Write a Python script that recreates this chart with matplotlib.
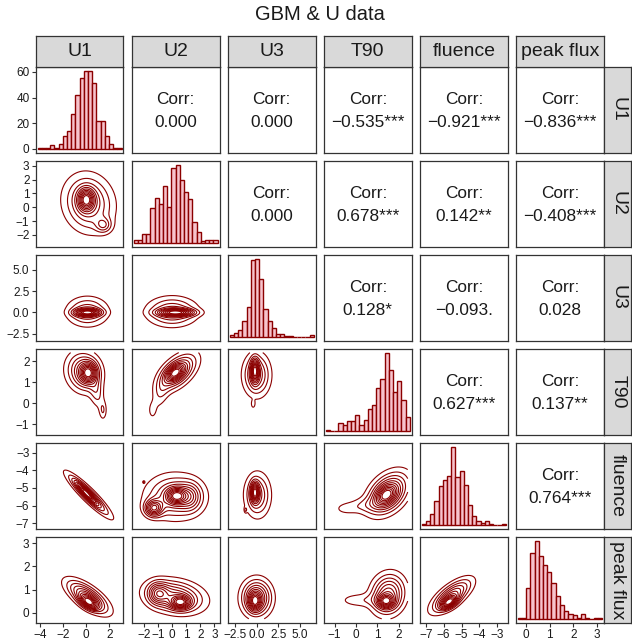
import numpy as np
import matplotlib.pyplot as plt

plt.rcParams['font.family'] = ['Liberation Sans', 'DejaVu Sans']

# variables, data ranges (min/max) and ticks
var_names = ["U1", "U2", "U3", "T90", "fluence", "peak flux"]
var_min = [-4.03, -2.57, -2.86, -1.31, -7.10, -0.25]
var_max = [2.88, 3.08, 6.34, 2.41, -2.64, 3.11]
var_ticks = [[-4, -2, 0, 2],
             [-2, -1, 0, 1, 2, 3],
             [-2.5, 0, 2.5, 5],
             [-1, 0, 1, 2],
             [-7, -6, -5, -4, -3],
             [0, 1, 2, 3]]
var_ticklabels = [None, None, ["−2.5", "0.0", "2.5", "5.0"], None, None, None]

# histogram counts (20 bins each)
hist_u1 = [1, 1, 1, 3, 1, 4, 10, 14, 27, 42, 55, 61, 61, 51, 22, 22, 10, 4, 1, 1]
hist_u2 = [2, 2, 6, 6, 23, 30, 26, 38, 24, 50, 52, 42, 34, 29, 14, 7, 1, 2, 2, 2]
hist_u3 = [2, 5, 8, 18, 35, 90, 92, 68, 33, 18, 10, 3, 3, 1, 1, 0, 0, 0, 0, 2]
hist_t90 = [1, 0, 0, 6, 5, 8, 8, 13, 5, 9, 18, 21, 35, 42, 64, 50, 32, 41, 25, 11]
hist_flu = [1, 3, 10, 22, 35, 41, 44, 71, 43, 49, 36, 18, 8, 3, 2, 3, 1, 0, 0, 1]
hist_pf = [1, 1, 28, 59, 70, 56, 48, 42, 32, 20, 12, 7, 4, 3, 1, 4, 1, 0, 1, 1]
hists = [hist_u1, hist_u2, hist_u3, hist_t90, hist_flu, hist_pf]
count_ticks = [0, 20, 40, 60]

# upper triangle correlation labels (row, col)
corr_labels = {
    (0, 1): "0.000", (0, 2): "0.000", (0, 3): "−0.535***",
    (0, 4): "−0.921***", (0, 5): "−0.836***",
    (1, 2): "0.000", (1, 3): "0.678***", (1, 4): "0.142**", (1, 5): "−0.408***",
    (2, 3): "0.128*", (2, 4): "−0.093.", (2, 5): "0.028",
    (3, 4): "0.627***", (3, 5): "0.137**",
    (4, 5): "0.764***",
}

# density shapes:
# (mean x, mean y, sd x, sd y, rho, weight)
u2_u1 = [(0.2, 0.3, 1.35, 1.3, -0.1, 0.75), (0.0, 0.55, 0.45, 0.5, 0.0, 0.15),
         (1.5, -1.3, 0.45, 0.35, 0.0, 0.04)]
u3_u1 = [(0.1, 0.1, 1.15, 1.1, 0.0, 0.75), (0.1, 0.0, 0.7, 0.28, 0.0, 0.25)]
u3_u2 = [(0.0, 0.1, 1.15, 1.1, 0.0, 0.75), (0.3, 0.0, 0.8, 0.28, 0.0, 0.25)]
t90_u1 = [(-0.2, 1.5, 0.95, 0.6, -0.1, 0.65), (0.2, 1.45, 0.45, 0.3, 0.0, 0.2),
          (0.9, 0.5, 0.4, 0.5, -0.3, 0.08), (1.45, -0.35, 0.22, 0.3, 0.0, 0.025)]
t90_u2 = [(0.4, 1.5, 0.85, 0.55, 0.55, 0.65), (0.2, 1.45, 0.4, 0.25, 0.4, 0.15),
          (-0.8, 0.5, 0.4, 0.55, 0.4, 0.08), (-1.4, -0.35, 0.22, 0.3, 0.0, 0.02)]
t90_u3 = [(0.0, 1.35, 1.0, 0.65, 0.0, 0.75), (-0.2, 1.55, 0.3, 0.35, 0.0, 0.2),
          (-0.4, -0.05, 0.15, 0.12, 0.0, 0.006)]
flu_u1 = [(0.2, -5.4, 1.15, 0.75, -0.92, 0.8), (0.0, -5.3, 0.5, 0.35, -0.9, 0.2)]
flu_u2 = [(0.2, -5.5, 1.3, 0.8, 0.0, 0.6), (0.3, -5.45, 0.45, 0.3, 0.0, 0.12),
          (-1.3, -6.15, 0.4, 0.3, 0.0, 0.1), (1.3, -5.5, 0.5, 0.5, 0.0, 0.1),
          (-2.0, -4.66, 0.04, 0.04, 0.0, 0.0004)]
flu_u3 = [(0.1, -5.4, 0.95, 0.8, 0.0, 0.75), (-0.2, -5.25, 0.3, 0.35, 0.0, 0.2),
          (-1.27, -6.25, 0.1, 0.1, 0.0, 0.004)]
flu_t90 = [(1.5, -5.3, 0.6, 0.75, 0.4, 0.7), (1.4, -5.4, 0.3, 0.35, 0.3, 0.12),
           (0.3, -6.0, 0.7, 0.3, 0.2, 0.07), (-0.5, -6.2, 0.35, 0.22, 0.0, 0.015)]
pf_u1 = [(0.1, 0.7, 1.15, 0.45, -0.7, 0.8), (0.2, 0.45, 0.5, 0.2, -0.5, 0.2)]
pf_u2 = [(0.2, 0.7, 1.3, 0.45, -0.2, 0.7), (0.6, 0.45, 0.45, 0.18, 0.0, 0.12),
         (-1.0, 0.85, 0.45, 0.3, 0.0, 0.12)]
pf_u3 = [(0.0, 0.65, 1.1, 0.5, 0.0, 0.85), (-0.2, 0.5, 0.45, 0.25, 0.0, 0.15)]
pf_t90 = [(1.5, 0.8, 0.5, 0.55, 0.1, 0.75), (1.4, 0.5, 0.25, 0.18, 0.0, 0.12),
          (0.1, 0.55, 0.6, 0.2, 0.0, 0.08)]
pf_flu = [(-5.55, 0.75, 0.7, 0.45, 0.7, 0.8), (-5.7, 0.45, 0.3, 0.18, 0.5, 0.2)]

shapes = {
    (1, 0): u2_u1,
    (2, 0): u3_u1, (2, 1): u3_u2,
    (3, 0): t90_u1, (3, 1): t90_u2, (3, 2): t90_u3,
    (4, 0): flu_u1, (4, 1): flu_u2, (4, 2): flu_u3, (4, 3): flu_t90,
    (5, 0): pf_u1, (5, 1): pf_u2, (5, 2): pf_u3, (5, 3): pf_t90, (5, 4): pf_flu,
}

dark = "#8B0000"
pink = "#F7C3CC"
border = "#333333"
strip_fc = "#D9D9D9"


def density(xx, yy, comps):
    z = np.zeros_like(xx)
    for mx, my, sx, sy, r, w in comps:
        dx = (xx - mx) / sx
        dy = (yy - my) / sy
        q = (dx**2 - 2 * r * dx * dy + dy**2) / (1 - r**2)
        z += w * np.exp(-0.5 * q) / (2 * np.pi * sx * sy * np.sqrt(1 - r**2))
    return z


def axlim(k):
    w = var_max[k] - var_min[k]
    return var_min[k] - 0.05 * w, var_max[k] + 0.05 * w


W, H = 632, 644
fig = plt.figure(figsize=(W / 100, H / 100), dpi=100)

left0, step_x, pw = 35.7, 96.06, 87.8
top0, step_y, ph = 66.7, 94.0, 86.0
strip_top = 35.7
strip_right_w = 27.7


def fig_rect(x, y, w, h):
    return [x / W, 1 - (y + h) / H, w / W, h / H]


def style_box(ax, fc="white"):
    ax.set_facecolor(fc)
    for s in ax.spines.values():
        s.set_color(border)
        s.set_linewidth(0.9)
    ax.tick_params(length=3, width=0.8, color=border, labelsize=8.5,
                   labelcolor="#1a1a1a", pad=1.5)


n = len(var_names)
for i in range(n):
    for j in range(n):
        ax = fig.add_axes(fig_rect(left0 + j * step_x, top0 + i * step_y, pw, ph))
        style_box(ax)
        ax.set_xlim(axlim(j))
        if i == j:
            counts = hists[j]
            bw = (var_max[j] - var_min[j]) / (len(counts) - 1)
            centers = var_min[j] + bw * np.arange(len(counts))
            ax.bar(centers, counts, width=bw, color=pink, edgecolor=dark,
                   linewidth=1.0)
            m = max(counts)
            ax.set_ylim(-0.05 * m, 1.05 * m)
        elif i < j:
            ax.text(0.5, 0.624, "Corr:", transform=ax.transAxes, ha="center",
                    va="center", fontsize=12.4, color="#1a1a1a")
            ax.text(0.5, 0.349, corr_labels[(i, j)], transform=ax.transAxes,
                    ha="center", va="center", fontsize=12.4, color="#1a1a1a")
            ax.set_ylim(axlim(i))
        else:
            gx = np.linspace(var_min[j], var_max[j], 200)
            gy = np.linspace(var_min[i], var_max[i], 200)
            xx, yy = np.meshgrid(gx, gy)
            z = density(xx, yy, shapes[(i, j)])
            levels = z.max() * np.arange(1, 12) / 12.5
            ax.contour(xx, yy, z, levels=levels, colors=dark, linewidths=0.8)
            ax.set_ylim(axlim(i))

        # ticks only on outer edges
        if j == 0:
            if i == 0:
                ax.set_yticks(count_ticks)
            else:
                ax.set_yticks(var_ticks[i])
                if var_ticklabels[i]:
                    ax.set_yticklabels(var_ticklabels[i])
        else:
            ax.set_yticks([])
        if i == n - 1:
            ax.set_xticks(var_ticks[j])
            if var_ticklabels[j]:
                ax.set_xticklabels(var_ticklabels[j])
        else:
            ax.set_xticks([])

# strips on top
for j in range(n):
    sax = fig.add_axes(fig_rect(left0 + j * step_x, strip_top, pw, top0 - strip_top))
    style_box(sax, strip_fc)
    sax.set_xticks([])
    sax.set_yticks([])
    sax.text(0.5, 0.5, var_names[j], transform=sax.transAxes, ha="center",
             va="center", fontsize=14, color="#1a1a1a")

# strips on the right
for i in range(n):
    sax = fig.add_axes(fig_rect(left0 + (n - 1) * step_x + pw, top0 + i * step_y,
                                strip_right_w, ph))
    style_box(sax, strip_fc)
    sax.set_xticks([])
    sax.set_yticks([])
    sax.text(0.5, 0.5, var_names[i], transform=sax.transAxes, ha="center",
             va="center", rotation=-90, fontsize=14, color="#1a1a1a")

fig.text((left0 + (n - 1) * step_x + pw + left0) / 2 / W, 1 - 15 / H,
         "GBM & U data", ha="center", va="center", fontsize=14.5,
         color="#1a1a1a")

fig.savefig("out.png", dpi=100)
